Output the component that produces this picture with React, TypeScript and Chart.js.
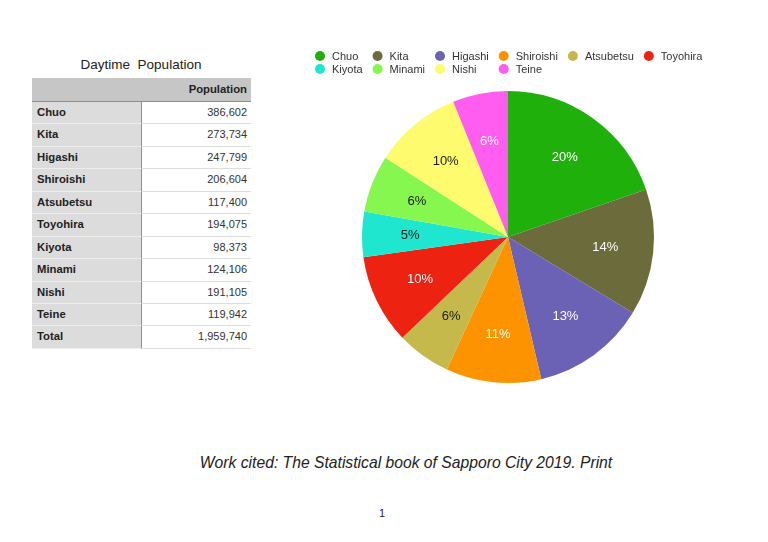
import React, { useEffect, useRef } from "react";
import { Chart, registerables } from "chart.js";

Chart.register(...registerables);

const wards = ["Chuo", "Kita", "Higashi", "Shiroishi", "Atsubetsu", "Toyohira", "Kiyota", "Minami", "Nishi", "Teine"];
const population = [386602, 273734, 247799, 206604, 117400, 194075, 98373, 124106, 191105, 119942];
const sliceColors = ["#20b00c", "#6b6b3b", "#6c62b5", "#fe9300", "#c5b94c", "#ee2211", "#1ee6cf", "#86f74f", "#fffb6e", "#ff5cf0"];
const labelTextColors = ["#ffffff", "#ffffff", "#ffffff", "#ffffff", "#1a1a1a", "#ffffff", "#1a1a1a", "#1a1a1a", "#1a1a1a", "#ffffff"];
const tableTitle = "Daytime  Population";
const valueHeader = "Population";
const totalLabel = "Total";
const caption = "Work cited: The Statistical book of Sapporo City 2019. Print";
const pageNumber = "1";
const legendColumns = 6;

const FONT = '"Liberation Sans", Arial, Helvetica, sans-serif';

const fmt = (n: number) => n.toLocaleString("en-US");

const gridLegend = {
  id: "gridLegend",
  afterDraw(chart: any) {
    const ctx = chart.ctx as CanvasRenderingContext2D;
    const labels = chart.data.labels as string[];
    const colors = chart.data.datasets[0].backgroundColor as string[];
    ctx.save();
    ctx.font = `11px ${FONT}`;
    const rows = Math.ceil(labels.length / legendColumns);
    const colW: number[] = [];
    for (let c = 0; c < legendColumns; c++) {
      let m = 0;
      for (let r = 0; r < rows; r++) {
        const i = r * legendColumns + c;
        if (i < labels.length) m = Math.max(m, ctx.measureText(labels[i]).width);
      }
      colW.push(m);
    }
    const startX = 15;
    const startY = 26;
    const rowH = 13;
    const dot = 5;
    const textOff = 17;
    const gap = 10;
    let x = startX;
    ctx.textBaseline = "middle";
    ctx.textAlign = "left";
    for (let c = 0; c < legendColumns; c++) {
      for (let r = 0; r < rows; r++) {
        const i = r * legendColumns + c;
        if (i >= labels.length) continue;
        const y = startY + r * rowH;
        ctx.beginPath();
        ctx.arc(x + dot, y, dot, 0, Math.PI * 2);
        ctx.fillStyle = colors[i];
        ctx.fill();
        ctx.fillStyle = "#333333";
        ctx.fillText(labels[i], x + textOff, y + 0.5);
      }
      x += textOff + colW[c] + gap;
    }
    ctx.restore();
  },
};

const pctLabels = {
  id: "pctLabels",
  afterDatasetsDraw(chart: any) {
    const ctx = chart.ctx as CanvasRenderingContext2D;
    const meta = chart.getDatasetMeta(0);
    const data = chart.data.datasets[0].data as number[];
    const total = data.reduce((a, b) => a + b, 0);
    ctx.save();
    ctx.font = `13px ${FONT}`;
    ctx.textAlign = "center";
    ctx.textBaseline = "middle";
    meta.data.forEach((arc: any, i: number) => {
      const { x, y, startAngle, endAngle, outerRadius } = arc.getProps(
        ["x", "y", "startAngle", "endAngle", "outerRadius"],
        true
      );
      const mid = (startAngle + endAngle) / 2;
      const r = outerRadius * 0.67;
      ctx.fillStyle = labelTextColors[i];
      ctx.fillText(Math.round((data[i] / total) * 100) + "%", x + Math.cos(mid) * r, y + Math.sin(mid) * r);
    });
    ctx.restore();
  },
};

function PieChart() {
  const ref = useRef<HTMLCanvasElement | null>(null);
  useEffect(() => {
    if (!ref.current) return;
    const chart = new Chart(ref.current, {
      type: "pie",
      data: {
        labels: wards,
        datasets: [
          {
            data: population,
            backgroundColor: sliceColors,
            borderWidth: 0,
          },
        ],
      },
      options: {
        responsive: false,
        animation: false,
        layout: { padding: { left: 62, right: 86, top: 61, bottom: 17 } },
        plugins: {
          legend: { display: false },
          tooltip: { enabled: false },
        },
      },
      plugins: [gridLegend, pctLabels],
    });
    return () => chart.destroy();
  }, []);
  return (
    <canvas
      ref={ref}
      width={440}
      height={370}
      style={{ position: "absolute", left: 300, top: 30, width: 440, height: 370 }}
    />
  );
}

function DataTable() {
  const total = population.reduce((a, b) => a + b, 0);
  const rows = wards.map((w, i) => ({ name: w, value: fmt(population[i]) }));
  rows.push({ name: totalLabel, value: fmt(total) });
  const rowH = 22.45;
  const col1 = 110;
  const col2 = 109;
  return (
    <div style={{ position: "absolute", left: 32, top: 78, width: col1 + col2, fontFamily: FONT, fontSize: 11, color: "#222" }}>
      <div
        style={{
          display: "flex",
          height: 24,
          boxSizing: "border-box",
          background: "#c6c6c6",
          borderBottom: "1.5px solid #8e8e8e",
        }}
      >
        <div style={{ width: col1 }} />
        <div
          style={{
            width: col2,
            textAlign: "right",
            fontWeight: "bold",
            fontSize: 11.3,
            lineHeight: "23px",
            paddingRight: 4,
            boxSizing: "border-box",
          }}
        >
          {valueHeader}
        </div>
      </div>
      {rows.map((r) => (
        <div key={r.name} style={{ display: "flex", height: rowH }}>
          <div
            style={{
              width: col1,
              background: "#dcdcdc",
              borderRight: "1.5px solid #8e8e8e",
              borderBottom: "1px solid #eeeeee",
              boxSizing: "border-box",
              fontWeight: "bold",
              fontSize: 11.3,
              paddingLeft: 5,
              lineHeight: `${rowH - 1}px`,
            }}
          >
            {r.name}
          </div>
          <div
            style={{
              width: col2,
              background: "#ffffff",
              borderBottom: "1px solid #dddddd",
              boxSizing: "border-box",
              textAlign: "right",
              paddingRight: 4,
              lineHeight: `${rowH - 1}px`,
              color: "#333",
            }}
          >
            {r.value}
          </div>
        </div>
      ))}
    </div>
  );
}

export default function App() {
  return (
    <div style={{ position: "absolute", left: 0, top: 0, width: 768, height: 542, background: "#fff", overflow: "hidden" }}>
      <div
        style={{
          position: "absolute",
          left: 141,
          top: 56,
          transform: "translateX(-50%)",
          whiteSpace: "pre",
          fontFamily: FONT,
          fontSize: 13.5,
          color: "#222",
          lineHeight: "18px",
        }}
      >
        {tableTitle}
      </div>
      <DataTable />
      <PieChart />
      <div
        style={{
          position: "absolute",
          left: 406,
          top: 452,
          transform: "translateX(-50%)",
          whiteSpace: "nowrap",
          fontFamily: FONT,
          fontStyle: "italic",
          fontSize: 15.7,
          lineHeight: "22px",
          color: "#222",
        }}
      >
        {caption}
      </div>
      <div
        style={{
          position: "absolute",
          left: 382,
          top: 506,
          transform: "translateX(-50%)",
          fontFamily: FONT,
          fontSize: 11,
          lineHeight: "14px",
          color: "#222",
        }}
      >
        {pageNumber}
      </div>
    </div>
  );
}
